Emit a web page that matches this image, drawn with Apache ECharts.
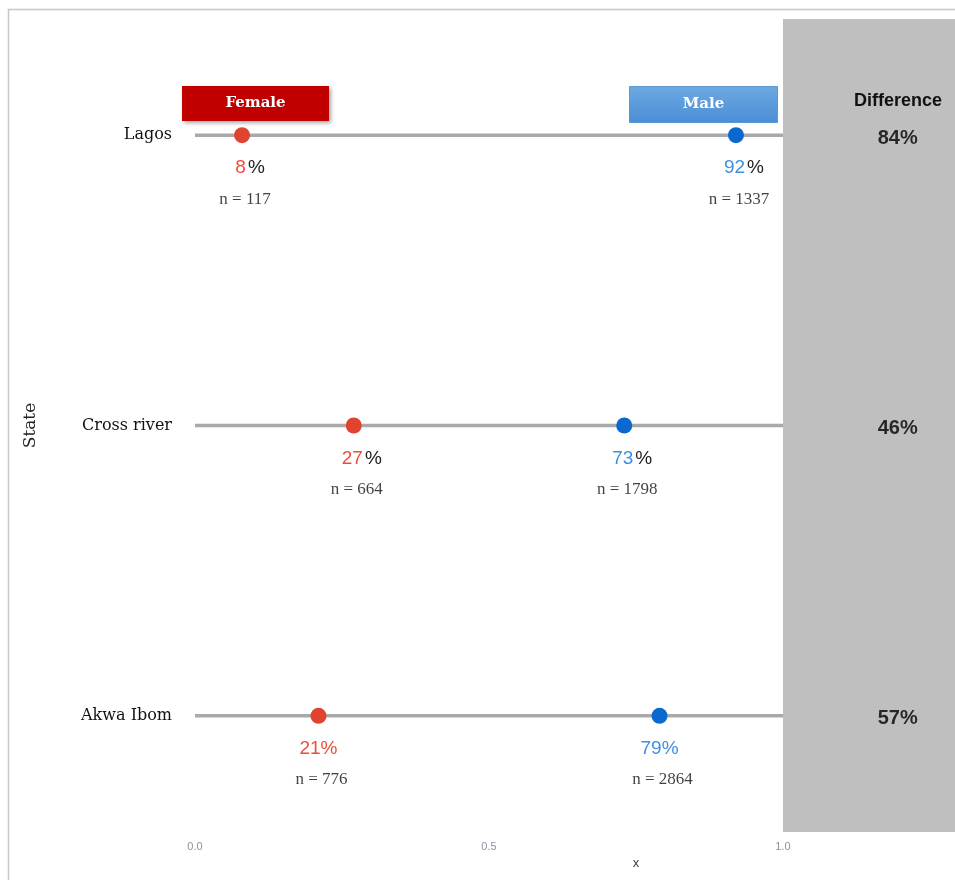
<!DOCTYPE html>
<html>
<head>
<meta charset="utf-8">
<script src="https://cdn.jsdelivr.net/npm/echarts@6/dist/echarts.min.js"></script>
<style>
  html, body { margin: 0; padding: 0; background: #fff; }
  #chart { width: 955px; height: 880px; }
</style>
</head>
<body>
<div id="chart"></div>
<script>
// states from bottom to top of the plot
const states = ["Akwa Ibom", "Cross river", "Lagos"];
const femaleShare = [0.21, 0.27, 0.08];
const maleShare = [0.79, 0.73, 0.92];
const femaleN = [776, 664, 117];
const maleN = [2864, 1798, 1337];
const difference = [57, 46, 84];
// in the source only the Akwa Ibom percent signs are coloured too
const pctFullyColoured = [true, false, false];
const xTickLabels = ["0.0", "0.5", "1.0"];

const FEMALE = "#e0432f";
const FEMALE_TXT = "#ea4f3c";
const MALE = "#0a68cf";
const MALE_TXT = "#3b8fe4";
const SERIF = "DejaVu Serif";
const SANS = "Liberation Sans";

const chart = echarts.init(document.getElementById("chart"));

function pctLabel(share, i) {
  const pct = Math.round(share * 100);
  if (pctFullyColoured[i]) {
    return { text: `{c|${pct}%}`, dx: 0 };
  }
  return { text: `{c|${pct}}{k|%}`, dx: 8 };
}

function dotSeries(name, shares, colour, txtColour) {
  return {
    name,
    type: "scatter",
    symbolSize: 16,
    z: 5,
    itemStyle: { color: colour, opacity: 1 },
    data: shares.map((s, i) => {
      const lab = pctLabel(s, i);
      return {
        value: [s, i + 1],
        label: {
          show: true,
          position: "inside",
          offset: [lab.dx, 33],
          formatter: lab.text,
          rich: {
            c: { color: txtColour, fontSize: 19, fontFamily: SANS },
            k: { color: "#222", fontSize: 19, fontFamily: SANS, padding: [0, 0, 0, 2] },
          },
        },
      };
    }),
  };
}

function countSeries(shares, counts) {
  return {
    type: "scatter",
    symbolSize: 1,
    silent: true,
    itemStyle: { color: "transparent" },
    label: {
      show: true,
      position: "inside",
      offset: [3, 64],
      color: "#111",
      fontSize: 17,
      fontFamily: "Liberation Serif",
      formatter: (p) => `n = ${counts[p.dataIndex]}`,
    },
    data: shares.map((s, i) => [s, i + 1]),
  };
}

const lineSeries = states.map((st, i) => ({
  name: st,
  type: "line",
  symbol: "none",
  silent: true,
  z: 2,
  lineStyle: { color: "#a9a9a9", width: 3.5 },
  data: [[0, i + 1], [1, i + 1]],
}));

lineSeries[0].markArea = {
  silent: true,
  itemStyle: { color: "#bfbfbf", opacity: 1 },
  data: [[{ xAxis: 1, yAxis: 0.6 }, { xAxis: 1.5, yAxis: 3.4 }]],
};

chart.setOption({
  animation: false,
  backgroundColor: "#fff",
  grid: { left: 195, width: 882, top: 19, bottom: 48, outerBoundsMode: "none", containLabel: false },
  xAxis: {
    type: "value",
    min: 0,
    max: 1.5,
    interval: 0.5,
    name: "x",
    nameLocation: "middle",
    nameGap: 25,
    nameTextStyle: { color: "#443c3c", fontSize: 13, fontFamily: SANS },
    axisLine: { show: false },
    axisTick: { show: false },
    splitLine: { show: false },
    axisLabel: {
      color: "#8a92a6",
      fontSize: 11,
      fontFamily: SANS,
      margin: 9,
      formatter: (v) => xTickLabels[Math.round(v / 0.5)] || "",
    },
  },
  yAxis: {
    type: "value",
    min: 0.6,
    max: 3.4,
    name: "State",
    nameLocation: "middle",
    nameRotate: 90,
    nameGap: 156,
    nameTextStyle: { color: "#222", fontSize: 17, fontFamily: SERIF },
    axisLine: { show: false },
    axisTick: { show: false },
    splitLine: { show: false },
    axisLabel: {
      customValues: [1, 2, 3],
      margin: 23,
      color: "#111",
      fontSize: 16,
      fontFamily: SERIF,
      formatter: (v) => states[Math.round(v) - 1] || "",
    },
  },
  graphic: [
    {
      type: "rect",
      z: -10,
      silent: true,
      shape: { x: 8.5, y: 9.5, width: 1000, height: 1000 },
      style: { fill: "none", stroke: "#c8c8c8", lineWidth: 1.5 },
    },
    {
      type: "group",
      left: 182,
      top: 86,
      z: 100,
      children: [
        {
          type: "rect",
          z: 100,
          shape: { x: 0, y: 0, width: 147, height: 35 },
          style: {
            fill: "#c00000",
            shadowBlur: 4,
            shadowOffsetX: 2,
            shadowOffsetY: 2,
            shadowColor: "rgba(0,0,0,0.35)",
          },
        },
        {
          type: "text",
          z: 101,
          x: 73.5,
          y: 17.5,
          style: {
            text: "Female",
            fill: "#fff",
            font: `bold 15px "${SERIF}"`,
            align: "center",
            verticalAlign: "middle",
          },
        },
      ],
    },
    {
      type: "group",
      left: 629,
      top: 86,
      z: 100,
      children: [
        {
          type: "rect",
          z: 100,
          shape: { x: 0, y: 0, width: 148, height: 36 },
          style: {
            fill: new echarts.graphic.LinearGradient(0, 0, 0, 1, [
              { offset: 0, color: "#6ea9e2" },
              { offset: 1, color: "#4a8ed6" },
            ]),
            stroke: "#5b98d8",
            lineWidth: 1,
          },
        },
        {
          type: "text",
          z: 101,
          x: 74,
          y: 18,
          style: {
            text: "Male",
            fill: "#fff",
            font: `bold 15px "${SERIF}"`,
            align: "center",
            verticalAlign: "middle",
          },
        },
      ],
    },
    {
      type: "text",
      z: 100,
      x: 898,
      y: 101,
      style: {
        text: "Difference",
        fill: "#111",
        font: `bold 18px "${SANS}"`,
        align: "center",
        verticalAlign: "middle",
      },
    },
  ],
  series: [
    ...lineSeries,
    dotSeries("Female", femaleShare, FEMALE, FEMALE_TXT),
    dotSeries("Male", maleShare, MALE, MALE_TXT),
    countSeries(femaleShare, femaleN),
    countSeries(maleShare, maleN),
    {
      name: "Difference",
      type: "scatter",
      symbolSize: 1,
      silent: true,
      z: 10,
      itemStyle: { color: "transparent" },
      label: {
        show: true,
        position: "inside",
        offset: [0, 3],
        color: "#000",
        fontSize: 20,
        fontWeight: "bold",
        fontFamily: SANS,
        formatter: (p) => `${difference[p.dataIndex]}%`,
      },
      data: difference.map((d, i) => [1.195, i + 1]),
    },
  ],
});
</script>
</body>
</html>
